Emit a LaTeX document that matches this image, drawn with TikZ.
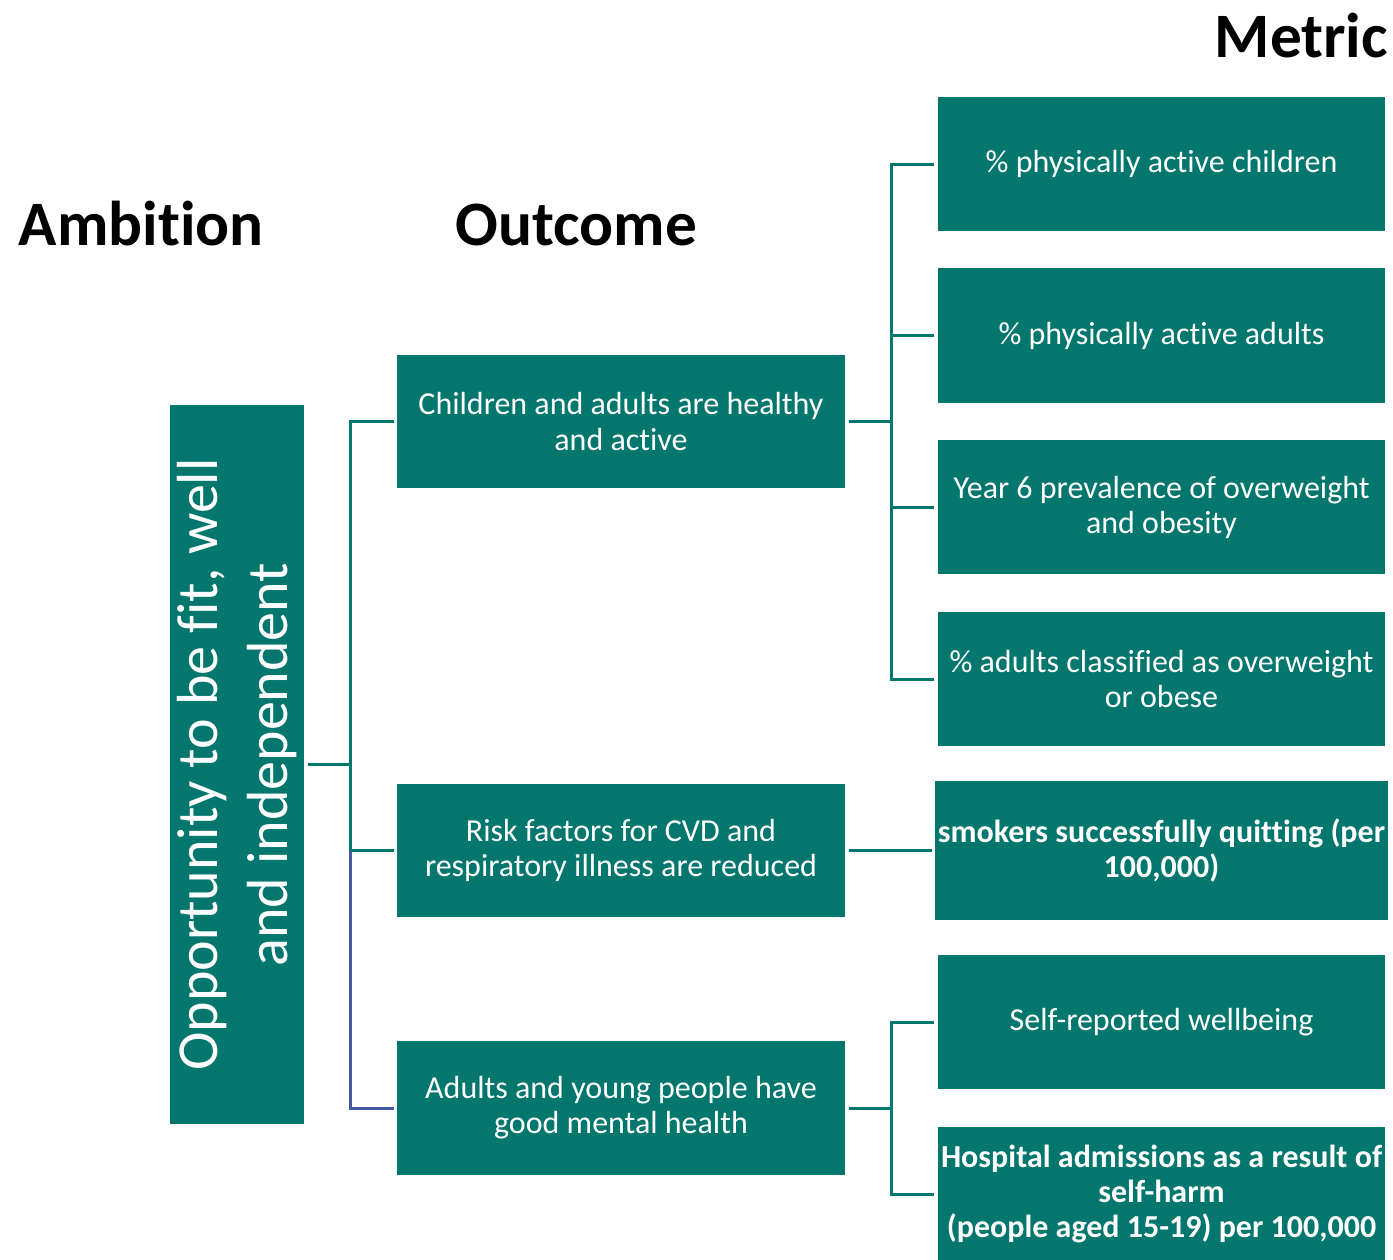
\documentclass[tikz,border=0pt]{standalone}
\usepackage{fontspec}
\setmainfont{Carlito}[Renderer=OpenType,RawFeature={-liga;-dlig;-clig;-hlig;-calt}]
\definecolor{boxteal}{RGB}{3,118,110}
\definecolor{linkblue}{RGB}{68,90,164}

\begin{document}
\begin{tikzpicture}[x=0.01cm,y=-0.01cm,
  box/.style={fill=boxteal,text=white,inner sep=0pt,align=center,
    font=\fontsize{9.1}{9.96}\selectfont},
  outbox/.style={box,minimum width=4.48cm,minimum height=1.33cm},
  metbox/.style={box,minimum width=4.47cm,minimum height=1.34cm},
  head/.style={anchor=base west,inner sep=0pt,font=\fontsize{18}{22}\selectfont\bfseries},
  conn/.style={draw=boxteal,line width=0.03cm},
  bconn/.style={draw=linkblue,line width=0.03cm}]
  \useasboundingbox (0,0) rectangle (1393,1259);

  % column headings
  \node[head] (hamb) at (18,245) {Ambition};
  \node[head] (hout) at (455,245) {Outcome};
  \node[head] (hmet) at (1214,57) {Metric};

  % the ambition, written bottom to top
  \node[box,rotate=90,minimum width=7.19cm,minimum height=1.34cm,
    font=\fontsize{16.5}{20}\selectfont] (amb) at (237,764.5)
    {Opportunity to be fit, well\\and independent};

  % outcomes
  \node[outbox] (outA) at (621,421.5) {Children and adults are healthy\\and active};
  \node[outbox] (outB) at (621,850.5) {Risk factors for CVD and\\respiratory illness are reduced};
  \node[outbox] (outC) at (621,1108) {Adults and young people have\\good mental health};

  % metrics
  \node[metbox] (m1) at (1161.5,164) {\% physically active children};
  \node[metbox] (m2) at (1161.5,335.5) {\% physically active adults};
  \node[metbox] (m3) at (1161.5,507) {Year 6 prevalence of overweight\\and obesity};
  \node[metbox] (m4) at (1161.5,679) {\% adults classified as overweight\\or obese};
  \node[box,minimum width=4.53cm,minimum height=1.39cm,font=\fontsize{9.1}{9.96}\selectfont\bfseries]
    (smoke) at (1161.5,850.5) {smokers successfully quitting (per\\100,000)};
  \node[metbox] (m6) at (1161.5,1022) {Self-reported wellbeing};
  \node[metbox,font=\fontsize{9.1}{9.96}\selectfont\bfseries] (m7) at (1161.5,1194)
    {Hospital admissions as a result of\\self-harm\\(people aged 15-19) per 100,000};

  % ambition to outcomes
  \draw[conn,shorten <=0.03cm] (amb.south) -- ++(46,0) coordinate (jamb);
  \draw[conn,shorten >=0.02cm] (jamb) |- (outA.west);
  \draw[conn,shorten >=0.02cm] (jamb) |- (outB.west);
  \draw[bconn,shorten >=0.02cm] (jamb |- outB.west) |- (outC.west);

  % outcomes to metrics
  \draw[conn,shorten <=0.03cm] (outA.east) -- ++(46,0) coordinate (jfit);
  \foreach \m in {m1,m2,m3,m4}
    \draw[conn,shorten >=0.03cm] (jfit) |- (\m.west);
  \draw[conn,shorten <=0.03cm,shorten >=0.02cm] (outB.east) -- (smoke.west);
  \draw[conn,shorten <=0.03cm] (outC.east) -- ++(46,0) coordinate (jmind);
  \foreach \m in {m6,m7}
    \draw[conn,shorten >=0.03cm] (jmind) |- (\m.west);
\end{tikzpicture}
\end{document}
